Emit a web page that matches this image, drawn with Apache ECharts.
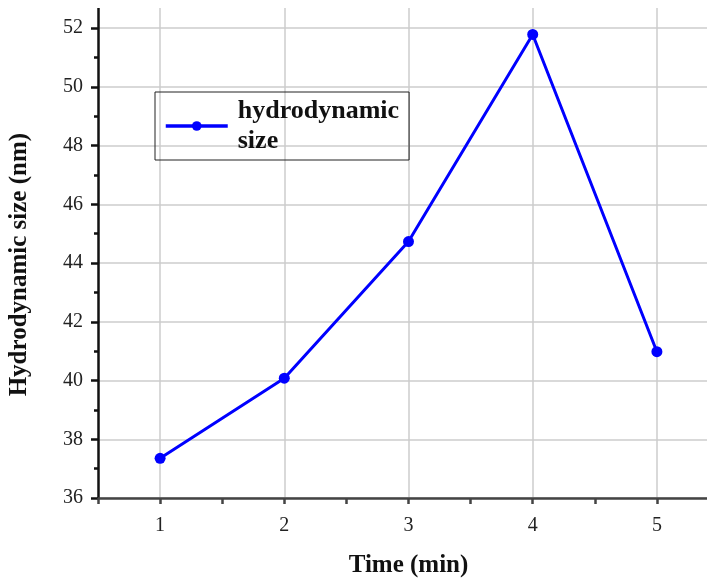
<!DOCTYPE html>
<html><head><meta charset="utf-8">
<script src="https://cdn.jsdelivr.net/npm/echarts@6/dist/echarts.min.js"></script>
<style>html,body{margin:0;padding:0;background:#fff}#c{width:707px;height:579px}</style>
</head><body><div id="c"></div>
<script>
const times = [1, 2, 3, 4, 5];
const sizes = [37.35, 40.08, 44.73, 51.78, 40.98];
const seriesName = 'hydrodynamic\nsize';
const xTitle = 'Time (min)';
const yTitle = 'Hydrodynamic size (nm)';

const chart = echarts.init(document.getElementById('c'));
const font = 'Liberation Serif, Times New Roman, serif';
// y: 36 at 498, 52 at 28 -> 29.375 px/unit; max 54 -> top -30.75
chart.setOption({
  animation: false,
  grid: {left: 98, right: -12, top: -30.75, bottom: 81, outerBoundsMode: 'none', containLabel: false},
  graphic: [{type: 'rect', shape: {x: 0, y: -40, width: 707, height: 48}, style: {fill: '#fff'}, z: 100, silent: true}],
  legend: {
    data: [seriesName], left: 155, top: 92, orient: 'vertical',
    padding: [4, 10, 4, 9], borderColor: '#222', borderWidth: 1,
    itemWidth: 62, itemHeight: 12, itemGap: 0,
    lineStyle: {width: 3.5},
    textStyle: {fontFamily: font, fontWeight: 'bold', fontSize: 26, color: '#111', lineHeight: 30, padding: [0, 0, 0, 5]}
  },
  xAxis: {
    type: 'value', min: 0.5, max: 5.5, interval: 0.5,
    name: xTitle, nameLocation: 'middle', nameGap: 55,
    nameTextStyle: {fontFamily: font, fontWeight: 'bold', fontSize: 25, color: '#111'},
    axisLine: {onZero: false, lineStyle: {color: '#444', width: 2.5}},
    axisTick: {length: 6, lineStyle: {color: '#444', width: 2.5}},
    axisLabel: {fontFamily: font, fontSize: 20, color: '#222', margin: 18,
      formatter: v => Number.isInteger(v) ? String(v) : ''},
    splitLine: {show: false}
  },
  yAxis: {
    type: 'value', min: 36, max: 54, interval: 2,
    name: yTitle, nameLocation: 'middle', nameGap: 66,
    nameTextStyle: {fontFamily: font, fontWeight: 'bold', fontSize: 25, color: '#111', padding: [0, 62, 0, 0]},
    axisLine: {show: true, lineStyle: {color: '#111', width: 2.5}},
    axisTick: {show: true, length: 7, lineStyle: {color: '#111', width: 2.5}},
    minorTick: {show: true, splitNumber: 2, length: 4, lineStyle: {color: '#111', width: 2.5}},
    axisLabel: {fontFamily: font, fontSize: 20, color: '#222', margin: 15},
    splitLine: {show: true, lineStyle: {color: '#ccc', width: 1.5}}
  },
  series: [{
    name: seriesName, type: 'line',
    data: times.map((t, i) => [t, sizes[i]]),
    symbol: 'circle', symbolSize: 11,
    lineStyle: {color: '#0000ff', width: 3},
    itemStyle: {color: '#0000ff'},
    markLine: {
      silent: true, symbol: 'none', label: {show: false}, z: 0,
      lineStyle: {color: '#ccc', width: 1.5, type: 'solid'},
      data: times.map(t => ({xAxis: t}))
    }
  }]
});
</script></body></html>
